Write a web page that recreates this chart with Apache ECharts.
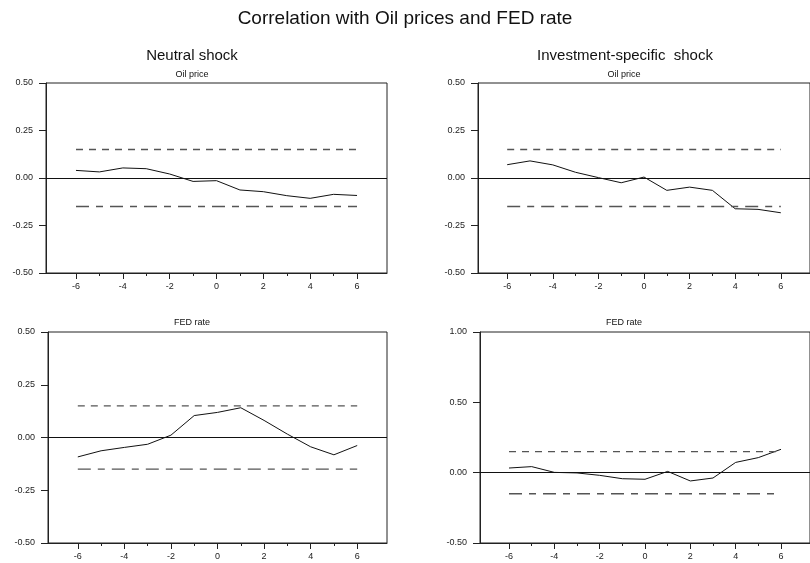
<!DOCTYPE html>
<html>
<head>
<meta charset="utf-8">
<script src="https://cdn.jsdelivr.net/npm/echarts@6/dist/echarts.min.js"></script>
<style>html,body{margin:0;padding:0;background:#fff}#c{width:810px;height:563px}</style>
</head>
<body>
<div id="c"></div>
<script>
// ---- data ----
const lags = [-6,-5,-4,-3,-2,-1,0,1,2,3,4,5,6];
const neutralOil   = [0.040,0.032,0.053,0.049,0.021,-0.018,-0.014,-0.063,-0.072,-0.093,-0.107,-0.086,-0.092];
const investOil    = [0.070,0.090,0.069,0.030,0.002,-0.025,0.005,-0.065,-0.048,-0.065,-0.162,-0.165,-0.183];
const neutralFed   = [-0.092,-0.063,-0.047,-0.032,0.011,0.104,0.119,0.141,0.081,0.016,-0.044,-0.082,-0.038];
const investFed    = [0.033,0.043,0.002,-0.002,-0.019,-0.043,-0.047,0.009,-0.059,-0.038,0.073,0.107,0.166];
const upperBand = 0.15;
const lowerBand = -0.15;
const xLabelTicks = [-6,-4,-2,0,2,4,6];
const xMinorTicks = [-5,-3,-1,1,3,5];
const mainTitle = 'Correlation with Oil prices and FED rate';
const colTitles = ['Neutral shock', 'Investment-specific  shock'];
const rowTitles = ['Oil price', 'FED rate'];

// ---- layout ----
const FONT = 'Liberation Sans, Arial, sans-serif';
const panels = [
  {left:46,  top:83,  width:341, height:190, ymin:-0.5, ymax:0.5, yint:0.25, data:neutralOil},
  {left:478, top:83,  width:341, height:190, ymin:-0.5, ymax:0.5, yint:0.25, data:investOil},
  {left:48,  top:332, width:339, height:211, ymin:-0.5, ymax:0.5, yint:0.25, data:neutralFed},
  {left:480, top:332, width:341, height:211, ymin:-0.5, ymax:1.0, yint:0.5,  data:investFed}
];

const grid = [], xAxis = [], yAxis = [], series = [];
panels.forEach((p, i) => {
  grid.push({left:p.left, top:p.top, width:p.width, height:p.height, show:true,
    borderColor:'#222', borderWidth:1, backgroundColor:'transparent'});
  xAxis.push({type:'value', gridIndex:i, min:-7.28, max:7.28,
    axisLine:{show:true, onZero:false, lineStyle:{color:'#222', width:1}},
    axisTick:{show:true, customValues:xLabelTicks, length:6, lineStyle:{color:'#222'}},
    axisLabel:{show:true, customValues:xLabelTicks, margin:9, fontSize:9, color:'#222', fontFamily:FONT},
    splitLine:{show:false}});
  xAxis.push({type:'value', gridIndex:i, min:-7.28, max:7.28, position:'bottom',
    axisLine:{show:false, onZero:false},
    axisTick:{show:true, customValues:xMinorTicks, length:3, lineStyle:{color:'#222'}},
    axisLabel:{show:false}, splitLine:{show:false}});
  yAxis.push({type:'value', gridIndex:i, min:p.ymin, max:p.ymax, interval:p.yint,
    axisLine:{show:true, onZero:false, lineStyle:{color:'#222', width:1}},
    axisTick:{show:true, length:7, lineStyle:{color:'#222'}},
    axisLabel:{margin:13, fontSize:9, color:'#222', fontFamily:FONT,
      formatter: v => v.toFixed(2)},
    splitLine:{show:false}});
  series.push({type:'line', xAxisIndex:2*i, yAxisIndex:i, data:lags.map((x,k)=>[x,p.data[k]]),
    symbol:'none', lineStyle:{color:'#111', width:1}, silent:true, animation:false, z:3,
    markLine:{silent:true, symbol:'none', label:{show:false}, animation:false,
      lineStyle:{color:'#111', type:'solid', width:1}, data:[{yAxis:0}]}});
  series.push({type:'line', xAxisIndex:2*i, yAxisIndex:i, data:lags.map(x=>[x,upperBand]),
    symbol:'none', lineStyle:{color:'#555', width:1.3, type:[7,6]}, silent:true, animation:false});
  series.push({type:'line', xAxisIndex:2*i, yAxisIndex:i, data:lags.map(x=>[x,lowerBand]),
    symbol:'none', lineStyle:{color:'#555', width:1.3, type:[13,7,7,7]}, silent:true, animation:false});
});

const txt = (s, x, y, size) => ({type:'text', x:x, y:y, silent:true,
  style:{text:s, fontSize:size, fontFamily:FONT, fill:'#111', align:'center', verticalAlign:'middle'}});

const graphic = [
  txt(mainTitle, 405, 19, 19),
  txt(colTitles[0], 192, 56, 15),
  txt(colTitles[1], 625, 56, 15),
  txt(rowTitles[0], 192, 75, 9),
  txt(rowTitles[0], 624, 75, 9),
  txt(rowTitles[1], 192, 323, 9),
  txt(rowTitles[1], 624, 323, 9)
];

const chart = echarts.init(document.getElementById('c'), null, {renderer:'canvas'});
chart.setOption({animation:false, backgroundColor:'#fff', grid, xAxis, yAxis, series, graphic});
</script>
</body>
</html>
